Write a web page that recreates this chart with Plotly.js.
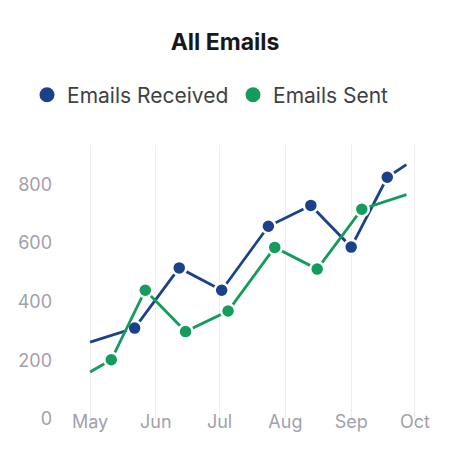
<!DOCTYPE html>
<html>
<head>
<meta charset="utf-8">
<script src="https://cdn.plot.ly/plotly-3.0.1.min.js"></script>
<style>
  html, body { margin: 0; padding: 0; background: #ffffff; }
  #chart { width: 450px; height: 455px; }
</style>
</head>
<body>
<div id="chart"></div>
<script>
// Data
const receivedDates = ['2023-05-01', '2023-05-22', '2023-06-12', '2023-07-02', '2023-07-24', '2023-08-13', '2023-09-01', '2023-09-18', '2023-09-27'];
const receivedValues = [262, 310, 515, 439, 657, 728, 586, 824, 867];

const sentDates = ['2023-05-01', '2023-05-11', '2023-05-27', '2023-06-15', '2023-07-05', '2023-07-27', '2023-08-16', '2023-09-06', '2023-09-27'];
const sentValues = [160, 202, 439, 298, 368, 585, 511, 715, 765];

const seriesNames = ['Emails Received', 'Emails Sent'];
const yTickValues = [0, 200, 400, 600, 800];

const blue = '#1a428a';
const green = '#139c5c';

function markerSizes(arr) {
  return arr.map((_, i) => (i === 0 || i === arr.length - 1) ? 0 : 14);
}

const traces = [
  {
    x: receivedDates, y: receivedValues, name: seriesNames[0],
    type: 'scatter', mode: 'lines+markers', showlegend: false, legendgroup: 'r',
    line: { color: blue, width: 2.8 },
    marker: { color: blue, opacity: 1, size: markerSizes(receivedValues), line: { color: '#ffffff', width: 2.5 } },
    cliponaxis: false
  },
  {
    x: sentDates, y: sentValues, name: seriesNames[1],
    type: 'scatter', mode: 'lines+markers', showlegend: false, legendgroup: 's',
    line: { color: green, width: 2.8 },
    marker: { color: green, opacity: 1, size: markerSizes(sentValues), line: { color: '#ffffff', width: 2.5 } },
    cliponaxis: false
  },
  {
    x: [null], y: [null], name: seriesNames[0], type: 'scatter', mode: 'markers',
    legendgroup: 'r', marker: { color: blue, size: 15 }
  },
  {
    x: [null], y: [null], name: seriesNames[1], type: 'scatter', mode: 'markers',
    legendgroup: 's', marker: { color: green, size: 15 }
  }
];

const layout = {
  width: 450, height: 455,
  margin: { l: 89, r: 33, t: 145, b: 36 },
  paper_bgcolor: '#ffffff', plot_bgcolor: '#ffffff',
  font: { family: 'Inter, "Noto Sans", sans-serif', color: '#a1a1aa' },
  title: {
    text: '<b>All Emails</b>',
    font: { family: 'Inter, sans-serif', size: 23, color: '#18181b' },
    x: 0.5, xref: 'container', xanchor: 'center',
    y: 1 - 42 / 455, yref: 'container', yanchor: 'middle'
  },
  showlegend: true,
  legend: {
    orientation: 'h',
    xref: 'paper', yref: 'paper',
    x: -0.189, xanchor: 'left',
    y: 1.182, yanchor: 'middle',
    font: { family: 'Inter, sans-serif', size: 21, color: '#3f3f46' },
    entrywidth: 161, entrywidthmode: 'pixels',
    bgcolor: 'rgba(0,0,0,0)'
  },
  xaxis: {
    type: 'date',
    range: ['2023-04-30 12:00', '2023-10-02'],
    dtick: 'M1', tick0: '2023-05-01', tickformat: '%b',
    showgrid: true, gridcolor: '#eeeef1', gridwidth: 1,
    zeroline: false, showline: false, ticks: '',
    tickfont: { family: 'Inter, sans-serif', size: 18, color: '#a1a1aa' },
    ticklabelstandoff: -10,
    fixedrange: true
  },
  yaxis: {
    range: [0, 934],
    tickvals: yTickValues,
    showgrid: false, zeroline: false, showline: false, ticks: '',
    tickfont: { family: 'Inter, sans-serif', size: 18, color: '#a1a1aa' },
    ticklabelstandoff: 36,
    fixedrange: true
  },
  hovermode: false
};

Plotly.newPlot('chart', traces, layout, { displayModeBar: false, staticPlot: true });
</script>
</body>
</html>
